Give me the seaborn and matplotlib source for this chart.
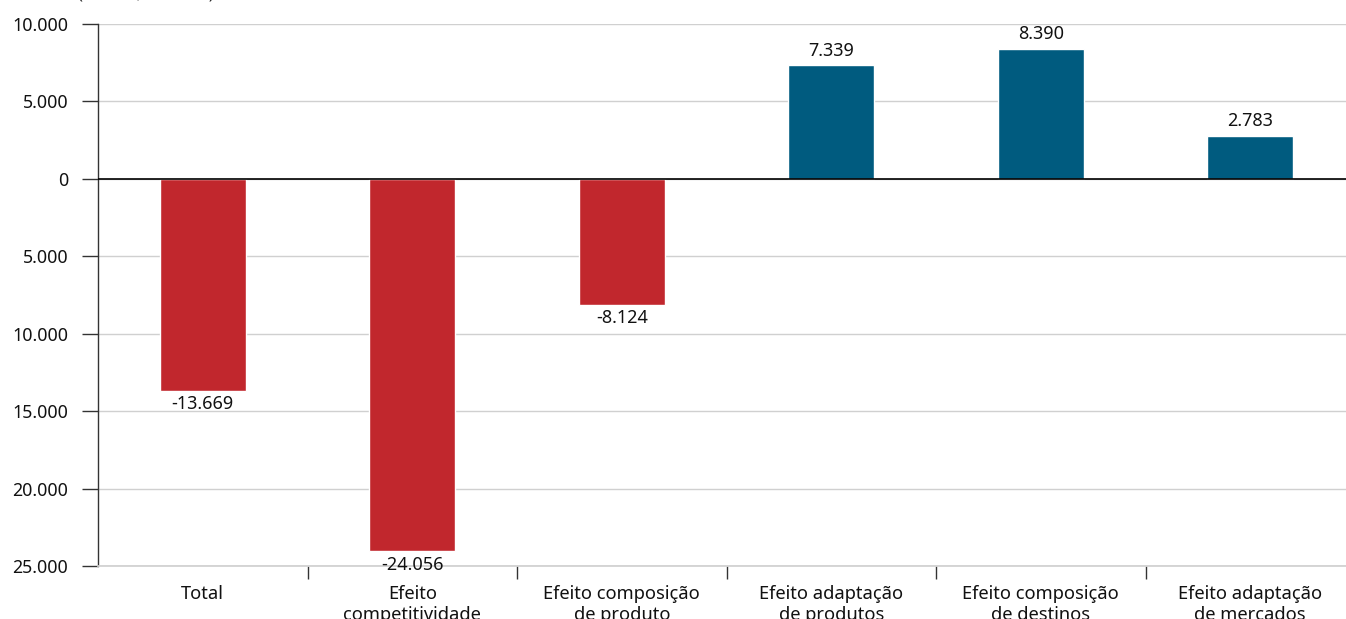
import matplotlib
matplotlib.use("Agg")
import matplotlib.pyplot as plt
import seaborn as sns
import numpy as np

# dados (US$ milhões)
categorias = ["Total", "Efeito\ncompetitividade", "Efeito composição\nde produto",
              "Efeito adaptação\nde produtos", "Efeito composição\nde destinos",
              "Efeito adaptação\nde mercados"]
valores = [-13669, -24056, -8124, 7339, 8390, 2783]
y_ticks = [10000, 5000, 0, -5000, -10000, -15000, -20000, -25000]

VERMELHO = "#C1272D"
AZUL = "#005B7F"

sns.set_theme(style="white")
plt.rcParams["font.family"] = ["Noto Sans", "DejaVu Sans"]

def fmt(v):
    return f"{v:,.0f}".replace(",", ".")

fig = plt.figure(figsize=(13.46, 6.19), dpi=100)
ax = fig.add_axes([98 / 1346, 1 - 566 / 619, (1355 - 98) / 1346, (566 - 24) / 619])

cores = [VERMELHO if v < 0 else AZUL for v in valores]
sns.barplot(x=list(range(len(valores))), y=valores, hue=list(range(len(valores))),
            palette=cores, legend=False, width=0.41, saturation=1, ax=ax)

ax.set_ylim(-25000, 10000)
ax.set_xlim(-0.5, len(valores) - 0.5)
ax.set_yticks(y_ticks)
ax.set_yticklabels([fmt(abs(t)) for t in y_ticks], fontsize=12.8, color="#111111")
for t in y_ticks:
    ax.axhline(t, color="#d0d0d0", lw=1, zorder=0)
ax.axhline(0, color="black", lw=1.2, zorder=3)

ax.set_xticks(range(len(categorias)))
ax.set_xticklabels(categorias, fontsize=13.2, color="#111111", linespacing=1.15)
ax.set_xticks(np.arange(0.5, len(categorias) - 0.5, 1), minor=True)
ax.tick_params(axis="x", which="major", length=0, pad=14)
ax.tick_params(axis="x", which="minor", length=9, width=1, color="#333333", direction="out", bottom=True)
ax.tick_params(axis="y", length=11.5, width=1, color="#333333", direction="out", left=True, pad=10)
ax.set_xlabel("")
ax.set_ylabel("")

for s in ["top", "right"]:
    ax.spines[s].set_visible(False)
ax.spines["left"].set_color("#333333")
ax.spines["left"].set_linewidth(1)
ax.spines["bottom"].set_color("#d0d0d0")

for i, v in enumerate(valores):
    if v >= 0:
        ax.annotate(fmt(v), (i, v), xytext=(0, 4), textcoords="offset points",
                    ha="center", va="bottom", fontsize=13, color="#111111")
    else:
        ax.annotate(fmt(v), (i, v), xytext=(0, -3), textcoords="offset points",
                    ha="center", va="top", fontsize=13, color="#111111")

fig.text(78 / 1346, 1 + 2 / 619, "(Em US$ milhões)", fontsize=12, va="baseline", ha="left")

fig.savefig("out.png", dpi=100)
